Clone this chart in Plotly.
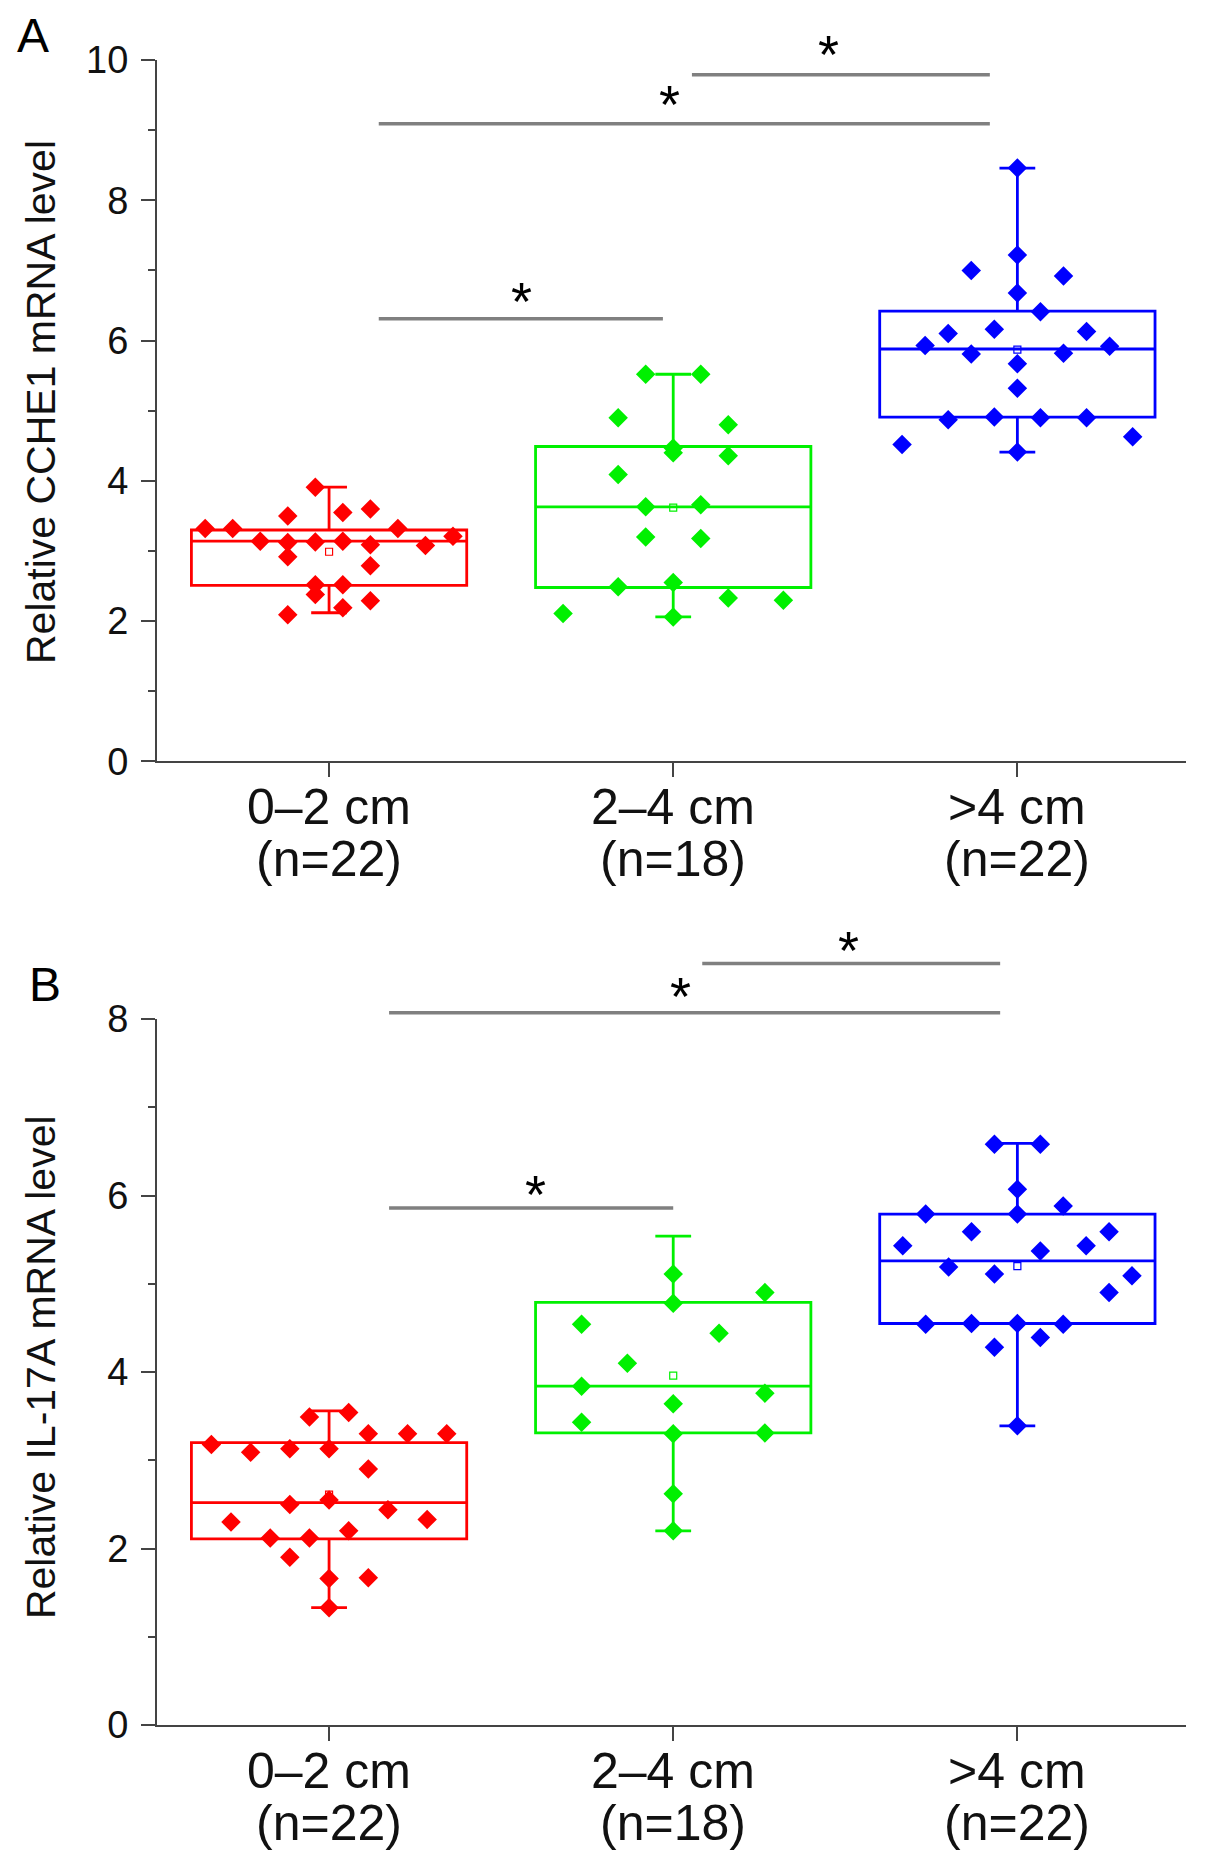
import numpy as np
import plotly.graph_objects as go

# ---------------- data ----------------
cat_line1 = ["0\u20132 cm", "2\u20134 cm", ">4 cm"]
cat_line2 = ["(n=22)", "(n=18)", "(n=22)"]
cat_pos = [1, 2, 3]
group_colors = ["#FF0000", "#00F000", "#0000FF"]

# Panel A : Relative CCHE1 mRNA level
a_red = [3.91, 3.50, 3.55, 3.60, 3.32, 3.32, 3.32, 3.21, 3.14, 3.12, 3.13,
         3.14, 3.09, 3.08, 2.92, 2.79, 2.52, 2.52, 2.38, 2.19, 2.29, 2.09]
a_red_col = [-0.5, -1.5, 0.5, 1.5, -4.5, -3.5, 2.5, 4.5, -2.5, -1.5, -0.5,
             0.5, 1.5, 3.5, -1.5, 1.5, -0.5, 0.5, -0.5, 0.5, 1.5, -1.5]
a_green = [5.52, 5.52, 4.90, 4.80, 4.47, 4.40, 4.36, 4.09, 3.63, 3.66, 3.20,
           3.18, 2.49, 2.55, 2.33, 2.30, 2.11, 2.06]
a_green_col = [-1, 1, -2, 2, 0, 0, 2, -2, -1, 1, -1, 1, -2, 0, 2, 4, -4, 0]
a_blue = [8.46, 7.22, 7.00, 6.92, 6.68, 6.41, 6.10, 6.16, 6.13, 5.93, 5.92,
          5.81, 5.82, 5.67, 5.32, 4.87, 4.91, 4.90, 4.90, 4.52, 4.63, 4.41]
a_blue_col = [0, 0, -2, 2, 0, 1, -3, -1, 3, -4, 4, -2, 2, 0, 0, -3, -1, 1, 3,
              -5, 5, 0]
a_q1 = [2.51, 2.48, 4.91]
a_median = [3.14, 3.63, 5.88]
a_q3 = [3.30, 4.49, 6.42]
a_low = [2.12, 2.06, 4.41]
a_high = [3.91, 5.52, 8.46]
a_mean = [2.99, 3.62, 5.87]

# Panel B : Relative IL-17A mRNA level
b_red = [3.49, 3.54, 3.30, 3.30, 3.30, 3.18, 3.09, 3.13, 3.13, 2.90, 2.50,
         2.55, 2.44, 2.33, 2.30, 2.12, 2.12, 2.20, 1.90, 1.66, 1.67, 1.33]
b_red_col = [-1, 1, 2, 4, 6, -6, -4, -2, 0, 2, -2, 0, 3, 5, -5, -3, -1, 1, -2,
             0, 2, 0]
b_green = [5.11, 4.90, 4.78, 4.54, 4.44, 4.10, 3.84, 3.76, 3.64, 3.43, 3.30,
           3.31, 2.62, 2.20]
b_green_col = [0, 4, 0, -4, 2, -2, -4, 4, 0, -4, 0, 4, 0, 0]
b_blue = [6.58, 6.58, 6.07, 5.88, 5.79, 5.79, 5.59, 5.59, 5.43, 5.43, 5.37,
          5.19, 5.11, 5.09, 4.90, 4.54, 4.55, 4.55, 4.54, 4.39, 4.28, 3.39]
b_blue_col = [-1, 1, 0, 2, -4, 0, -2, 4, -5, 3, 1, -3, -1, 5, 4, -4, -2, 0, 2,
              1, -1, 0]
b_q1 = [2.11, 3.31, 4.55]
b_median = [2.52, 3.84, 5.26]
b_q3 = [3.20, 4.79, 5.79]
b_low = [1.33, 2.20, 3.39]
b_high = [3.56, 5.54, 6.59]
b_mean = [2.61, 3.96, 5.20]

# significance brackets: (x_start, x_end, level) and star positions (x, level)
a_sig = [(1.14, 1.97, 6.31), (1.14, 2.92, 9.09), (2.05, 2.92, 9.79)]
a_star = [(1.56, 6.66), (1.99, 9.47), (2.45, 10.19)]
b_sig = [(1.17, 2.00, 5.86), (1.17, 2.95, 8.07), (2.08, 2.95, 8.63)]
b_star = [(1.60, 6.10), (2.02, 8.34), (2.51, 8.86)]

Y_MAX_A = 10
Y_MAX_B = 8

# ---------------- styling ----------------
FONT = "Liberation Sans, Arial, sans-serif"
AXC = "#444444"
col_step_a = [0.080, 0.080, 0.067]
col_step_b = [0.057, 0.0666, 0.0666]

fig = go.Figure()


def add_panel(xa, ya, groups, cols, steps, q1, med, q3, lo, hi, mean):
    for i in range(3):
        fig.add_trace(go.Box(
            x=[cat_pos[i]], q1=[q1[i]], median=[med[i]], q3=[q3[i]],
            lowerfence=[lo[i]], upperfence=[hi[i]],
            width=0.8, whiskerwidth=0.13,
            line=dict(color=group_colors[i], width=2.8),
            fillcolor="rgba(0,0,0,0)", boxpoints=False,
            xaxis=xa, yaxis=ya, showlegend=False, hoverinfo="skip"))
        xs = cat_pos[i] + np.array(cols[i]) * steps[i]
        fig.add_trace(go.Scatter(
            x=xs, y=groups[i], mode="markers",
            marker=dict(symbol="diamond", size=15, color=group_colors[i],
                        line=dict(width=0)),
            xaxis=xa, yaxis=ya, showlegend=False, cliponaxis=False))
        fig.add_trace(go.Scatter(
            x=[cat_pos[i]], y=[mean[i]], mode="markers",
            marker=dict(symbol="square-open", size=7, color=group_colors[i],
                        line=dict(width=1.2)),
            xaxis=xa, yaxis=ya, showlegend=False))


add_panel("x", "y", [a_red, a_green, a_blue], [a_red_col, a_green_col, a_blue_col],
          col_step_a, a_q1, a_median, a_q3, a_low, a_high, a_mean)
add_panel("x2", "y2", [b_red, b_green, b_blue], [b_red_col, b_green_col, b_blue_col],
          col_step_b, b_q1, b_median, b_q3, b_low, b_high, b_mean)

annotations = []
for (xr, yr, sig, stars, ymax) in [("x", "y", a_sig, a_star, Y_MAX_A),
                                   ("x2", "y2", b_sig, b_star, Y_MAX_B)]:
    yd = yr + " domain"
    for (x0, x1, lv) in sig:
        annotations.append(dict(
            x=x1, y=lv / ymax, ax=x0, ay=lv / ymax, xref=xr, yref=yd,
            axref=xr, ayref=yd,
            text="", showarrow=True, arrowhead=0, arrowwidth=3.5,
            arrowcolor="#808080", font=dict(size=1)))
    for (sx, sy) in stars:
        annotations.append(dict(
            x=sx, y=sy / ymax, xref=xr, yref=yd, text="*", showarrow=False,
            font=dict(family=FONT, size=54, color="black"),
            xanchor="center", yanchor="middle", yshift=-7))
    # two-line category labels under the axis
    for i in range(3):
        annotations.append(dict(
            x=cat_pos[i], y=0, xref=xr, yref=yd, text=cat_line1[i],
            showarrow=False, xanchor="center", yanchor="middle", yshift=-46,
            font=dict(family=FONT, size=50, color="#111")))
        annotations.append(dict(
            x=cat_pos[i], y=0, xref=xr, yref=yd, text=cat_line2[i],
            showarrow=False, xanchor="center", yanchor="middle", yshift=-98,
            font=dict(family=FONT, size=50, color="#111")))

# y titles and panel letters
annotations += [
    dict(text="Relative CCHE1 mRNA level", textangle=-90, x=-0.1127, y=0.7946,
         xref="paper", yref="paper", xanchor="center", yanchor="middle",
         showarrow=False, font=dict(family=FONT, size=41, color="#111")),
    dict(text="Relative IL-17A mRNA level", textangle=-90, x=-0.1127, y=0.215,
         xref="paper", yref="paper", xanchor="center", yanchor="middle",
         showarrow=False, font=dict(family=FONT, size=41, color="#111")),
    dict(text="A", x=-0.138, y=1.032, xref="paper", yref="paper",
         xanchor="left", yanchor="top", showarrow=False,
         font=dict(family=FONT, size=48, color="black")),
    dict(text="B", x=-0.126, y=0.462, xref="paper", yref="paper",
         xanchor="left", yanchor="top", showarrow=False,
         font=dict(family=FONT, size=48, color="black")),
]

xaxis_common = dict(
    range=[0.5, 3.49], tickmode="array", tickvals=cat_pos,
    showticklabels=False,
    showline=True, linecolor=AXC, linewidth=2, ticks="outside", ticklen=14,
    tickwidth=2, tickcolor=AXC, showgrid=False, zeroline=False)
yaxis_common = dict(
    showline=True, linecolor=AXC, linewidth=2, ticks="outside", ticklen=14,
    tickwidth=2, tickcolor=AXC, showgrid=False, zeroline=False,
    ticklabelstandoff=5,
    tickfont=dict(family=FONT, size=38, color="#111"),
    minor=dict(dtick=1, ticks="outside", ticklen=7, tickwidth=2, tickcolor=AXC,
               showgrid=False))

fig.update_layout(
    width=1205, height=1871,
    margin=dict(l=157, r=19, t=60, b=146),
    paper_bgcolor="white", plot_bgcolor="white",
    boxmode="overlay",
    xaxis=dict(domain=[0, 1], anchor="y", **xaxis_common),
    yaxis=dict(domain=[0.5787, 1.0], anchor="x", range=[0, Y_MAX_A], dtick=2,
               tick0=0, **yaxis_common),
    xaxis2=dict(domain=[0, 1], anchor="y2", **xaxis_common),
    yaxis2=dict(domain=[0, 0.424], anchor="x2", range=[0, Y_MAX_B], dtick=2,
                tick0=0, **yaxis_common),
    annotations=annotations,
)

fig.write_html("out.html", config={"displayModeBar": False},
               post_script="document.body.style.margin='0px';")
